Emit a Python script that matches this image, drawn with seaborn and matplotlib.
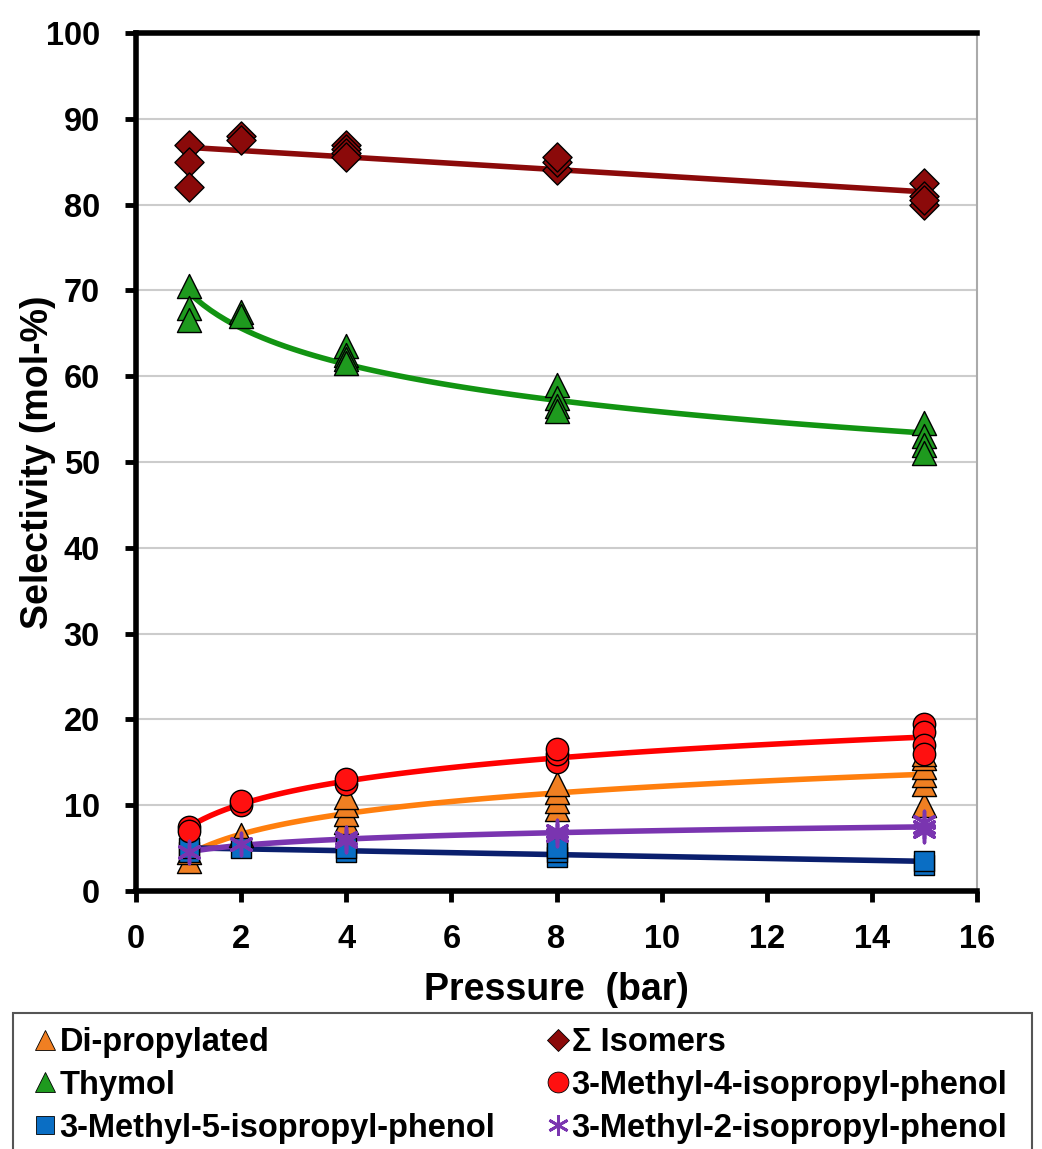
import matplotlib
matplotlib.use("Agg")
import matplotlib.pyplot as plt
import seaborn as sns
import numpy as np
import pandas as pd
from matplotlib.lines import Line2D
from matplotlib.patches import Rectangle

# ---- data ----
p_iso = [1, 1, 1, 2, 2, 4, 4, 4, 4, 8, 8, 8, 15, 15, 15, 15]
s_iso = [87, 85, 82, 88, 87.5, 87, 86.5, 86, 85.5, 84, 85, 85.5, 82.5, 81, 80, 80.5]

p_thy = [1, 1, 1, 2, 2, 4, 4, 4, 4, 8, 8, 8, 8, 15, 15, 15, 15]
s_thy = [70.5, 68, 66.5, 67.5, 67, 63.5, 62.5, 62, 61.5, 59, 57.5, 56.5, 56, 54.5, 53, 52, 51]

p_red = [1, 1, 2, 2, 4, 4, 8, 8, 8, 15, 15, 15, 15]
s_red = [7.5, 7, 10, 10.5, 12.5, 13, 15, 16, 16.5, 19.5, 18.5, 17, 16]

p_di = [1, 1, 2, 4, 4, 4, 4, 8, 8, 8, 8, 15, 15, 15, 15, 15, 15]
s_di = [3.5, 4.5, 6.5, 8, 9, 10, 11, 9.5, 10.5, 11.5, 12.5, 10, 12.5, 13.5, 14.5, 15.5, 16]

p_m2 = [1, 2, 4, 4, 8, 8, 15, 15, 15]
s_m2 = [4.5, 5.5, 5.8, 6.2, 6.5, 7, 7, 7.5, 8]

p_m5 = [1, 1, 2, 4, 4, 8, 8, 8, 15, 15]
s_m5 = [4.5, 5, 5, 4.5, 5, 4, 4.5, 5, 3, 3.5]

x_ticks = [0, 2, 4, 6, 8, 10, 12, 14, 16]
y_ticks = [0, 10, 20, 30, 40, 50, 60, 70, 80, 90, 100]

sns.set_theme(style="white")
plt.rcParams['font.family'] = ['Liberation Sans', 'DejaVu Sans']
plt.rcParams['font.weight'] = 'bold'
plt.rcParams['text.color'] = 'black'
plt.rcParams['xtick.color'] = 'black'
plt.rcParams['ytick.color'] = 'black'
plt.rcParams['axes.labelcolor'] = 'black'

W, H = 1042, 1149
fig = plt.figure(figsize=(W / 100, H / 100), dpi=100)
ax = fig.add_axes([136/W, 1 - 891/H, (977-136)/W, (891-33)/H])

series = [
    # name, p, s, marker, face, line colour, logx, size
    ("Di-propylated", p_di, s_di, "^", "#F07F22", "#FF7F0E", True, 300),
    ("Thymol", p_thy, s_thy, "^", "#1E9A1E", "#129412", True, 300),
    ("3-Methyl-5-isopropyl-phenol", p_m5, s_m5, "s", "#0A6EC4", "#0A1F6E", False, 200),
    ("\u03a3 Isomers", p_iso, s_iso, "D", "#8B0A0A", "#8B0A0A", False, 220),
    ("3-Methyl-4-isopropyl-phenol", p_red, s_red, "o", "#FF1010", "#FF0000", True, 260),
    ("3-Methyl-2-isopropyl-phenol", p_m2, s_m2, (6, 2, 0), "#7A35B0", "#7A35B0", True, 260),
]
leg_ms = {"^": 15, "s": 13, "D": 11, "o": 15}

handles = []
for name, p, s, mk, fc, lc, logx, sz in series:
    df = pd.DataFrame({"p": p, "s": s})
    sns.regplot(data=df, x="p", y="s", ax=ax, scatter=False, logx=logx, ci=None,
                line_kws=dict(color=lc, lw=4, zorder=2))
    if isinstance(mk, tuple):
        sns.scatterplot(data=df, x="p", y="s", ax=ax, marker=mk, s=sz, color=fc,
                        edgecolor=fc, linewidth=2.5, zorder=3)
        h = Line2D([], [], ls="none", marker=mk, markersize=15, color=fc,
                   markeredgecolor=fc, markeredgewidth=2)
    else:
        sns.scatterplot(data=df, x="p", y="s", ax=ax, marker=mk, s=sz, color=fc,
                        edgecolor="black", linewidth=1.0, zorder=3)
        h = Line2D([], [], ls="none", marker=mk, markersize=leg_ms[mk], markerfacecolor=fc,
                   markeredgecolor="black", markeredgewidth=0.6)
    handles.append((h, name))

ax.set_xlim(0, 16)
ax.set_ylim(0, 100)
ax.set_xticks(x_ticks)
ax.set_yticks(y_ticks)
ax.set_xticklabels([str(v) for v in x_ticks])
ax.set_yticklabels([str(v) for v in y_ticks])
ax.tick_params(axis="both", labelsize=23.5, width=3.5, length=8, direction="out",
               color="black", labelcolor="black")
ax.tick_params(axis="x", bottom=True, pad=16)
ax.tick_params(axis="y", left=True, pad=18)
for lab in ax.get_xticklabels() + ax.get_yticklabels():
    lab.set_fontweight("bold")
ax.yaxis.grid(True, color="#cccccc", lw=1.5)
ax.xaxis.grid(False)
for side in ["left", "bottom", "top"]:
    ax.spines[side].set_color("black")
    ax.spines[side].set_linewidth(4)
ax.spines["right"].set_color("#aaaaaa")
ax.spines["right"].set_linewidth(1.5)
ax.set_xlabel("Pressure  (bar)", fontsize=27, fontweight="bold")
ax.set_ylabel("Selectivity (mol-%)", fontsize=27, fontweight="bold")
ax.xaxis.set_label_coords(0.5, (891 - 972) / 858)
ax.yaxis.set_label_coords((56 - 136) / 841, 0.5)

# legend frame (cut by the bottom edge as in the reference)
fig.patches.append(Rectangle((13/W, -0.02), (1032-13)/W, 0.02 + 1 - 1013/H,
                             transform=fig.transFigure, fill=False,
                             edgecolor="#555555", lw=1.5))
leg = fig.legend([h for h, _ in handles], [n for _, n in handles], ncol=2,
                 loc="upper left", bbox_to_anchor=(34/W, 1 - 1027/H),
                 frameon=False, prop=dict(size=23.5, weight="bold"),
                 handletextpad=0.08, handlelength=0.7, labelspacing=0.36,
                 borderpad=0, borderaxespad=0, columnspacing=1.56)

fig.savefig("out.png", dpi=100)
